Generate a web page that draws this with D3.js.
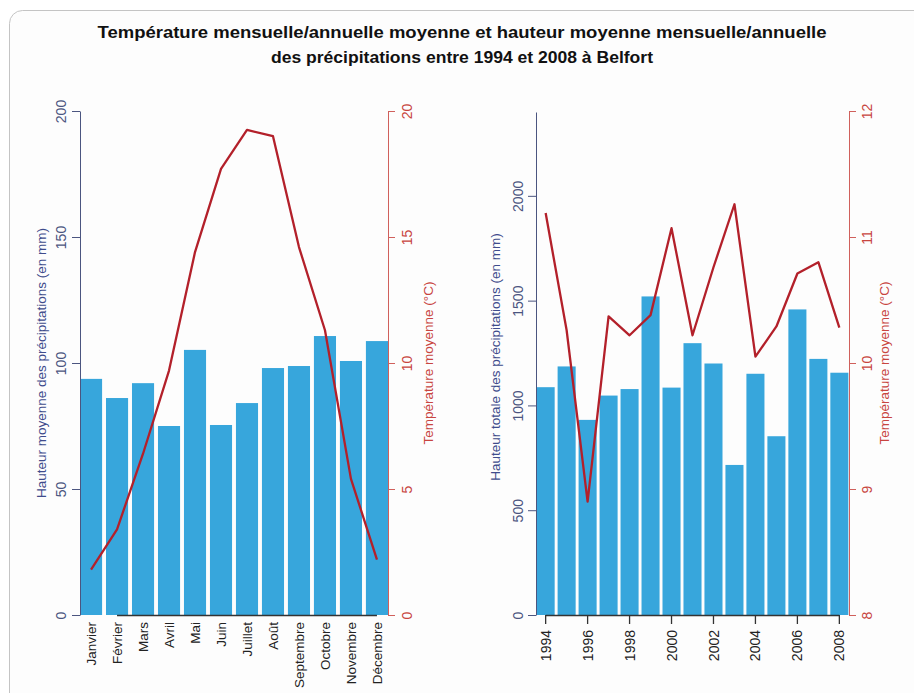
<!DOCTYPE html>
<html>
<head>
<meta charset="utf-8">
<script src="https://cdn.jsdelivr.net/npm/d3@7"></script>
<style>
  body { margin: 0; background: #fff; }
  svg text { font-family: "Liberation Sans", Arial, sans-serif; }
</style>
</head>
<body>
<svg id="chart" width="914" height="693"></svg>
<script>
// monthly means 1994-2008
var months = ["Janvier", "Février", "Mars", "Avril", "Mai", "Juin", "Juillet", "Août",
              "Septembre", "Octobre", "Novembre", "Décembre"];
var monthRain = [93.7, 86.1, 92.0, 75.0, 105.2, 75.4, 84.1, 98.0, 98.8, 110.7, 100.8, 108.7];
var monthTemp = [1.8, 3.4, 6.4, 9.7, 14.4, 17.7, 19.25, 19.0, 14.6, 11.3, 5.4, 2.2];

// yearly values
var years = [1994, 1995, 1996, 1997, 1998, 1999, 2000, 2001, 2002, 2003, 2004, 2005, 2006, 2007, 2008];
var yearRain = [1087, 1186, 931, 1047, 1078, 1520, 1085, 1297, 1200, 716, 1151, 853, 1458, 1222, 1156];
var yearTemp = [11.19, 10.26, 8.90, 10.37, 10.22, 10.38, 11.07, 10.22, 10.76, 11.26, 10.05, 10.29, 10.71, 10.80, 10.28];

var titleLines = ["Température mensuelle/annuelle moyenne et hauteur moyenne mensuelle/annuelle",
                  "des précipitations entre 1994 et 2008 à Belfort"];

var barColor = "#37a6dc",
    lineColor = "#b3202a",
    blueAxis = "#4b5580",
    blueText = "#3f4c8c",
    redAxis = "#d0605c",
    redText = "#c8453f";

var svg = d3.select("#chart");

// card frame
svg.append("rect")
    .attr("x", 9.5).attr("y", 10.5)
    .attr("width", 930).attr("height", 720)
    .attr("rx", 13)
    .attr("fill", "#fdfdfd")
    .attr("stroke", "#c4c4c4");

// title
svg.selectAll(".title")
    .data(titleLines)
    .enter().append("text")
    .attr("class", "title")
    .attr("x", 462)
    .attr("y", function(d, i) { return 38 + i * 25; })
    .attr("text-anchor", "middle")
    .attr("textLength", function(d, i) { return i == 0 ? 729 : 382; })
    .attr("lengthAdjust", "spacingAndGlyphs")
    .style("font-size", "16px")
    .style("font-weight", "bold")
    .style("fill", "#111")
    .text(function(d) { return d; });

function rotLabels(sel, dx, color) {
    sel.selectAll("text")
        .attr("x", 0).attr("y", 0).attr("dy", 0)
        .attr("text-anchor", "middle")
        .attr("transform", "translate(" + dx + ",0) rotate(-90)")
        .style("font-size", "14px")
        .style("font-family", "Liberation Sans, Arial, sans-serif")
        .style("fill", color);
}

function styleAxis(sel, color) {
    sel.selectAll("path, line").attr("stroke", color);
}

function drawPanel(cfg) {
    var g = svg.append("g");

    var x = d3.scaleBand()
        .domain(cfg.cats)
        .range([cfg.x0, cfg.x1])
        .paddingInner(cfg.padIn)
        .paddingOuter(cfg.padOut);

    var yR = d3.scaleLinear().domain(cfg.rainDomain).range([615, cfg.rainTop]);
    var yT = d3.scaleLinear().domain(cfg.tempDomain).range([615, 111]);

    g.append("g")
        .selectAll("rect")
        .data(cfg.rain)
        .enter().append("rect")
        .attr("x", function(d, i) { return x(cfg.cats[i]); })
        .attr("y", function(d) { return yR(d); })
        .attr("width", x.bandwidth())
        .attr("height", function(d) { return yR(0) - yR(d); })
        .attr("fill", barColor);

    // x axis
    var cx = function(c) { return x(c) + x.bandwidth() / 2; };
    g.append("line")
        .attr("x1", cx(cfg.axisFrom)).attr("x2", cx(cfg.axisTo))
        .attr("y1", 615.5).attr("y2", 615.5)
        .attr("stroke", "#333").attr("stroke-width", 1.3);

    if (cfg.xTicks) {
        g.selectAll(".xtick")
            .data(cfg.xTicks)
            .enter().append("line")
            .attr("x1", cx).attr("x2", cx)
            .attr("y1", 615).attr("y2", 624)
            .attr("stroke", "#333").attr("stroke-width", 1.3);
    }

    g.selectAll(".xlab")
        .data(cfg.xLabels)
        .enter().append("text")
        .attr("transform", function(d) { return "translate(" + cx(d) + "," + cfg.labelY + ") rotate(-90)"; })
        .attr("dy", "0.36em")
        .attr("text-anchor", "end")
        .style("font-size", cfg.xFont)
        .style("fill", "#222")
        .text(function(d) { return d; });

    // left axis
    var aL = g.append("g")
        .attr("transform", "translate(" + cfg.x0 + ",0)")
        .call(d3.axisLeft(yR).tickValues(cfg.rainTicks).tickSize(8).tickSizeOuter(0).tickFormat(d3.format("d")));
    styleAxis(aL, blueAxis);
    rotLabels(aL, cfg.leftLabDx, blueAxis);

    // right axis
    var aR = g.append("g")
        .attr("transform", "translate(" + cfg.x1 + ",0)")
        .call(d3.axisRight(yT).tickValues(cfg.tempTicks).tickSize(7).tickSizeOuter(0).tickFormat(d3.format("d")));
    styleAxis(aR, redAxis);
    rotLabels(aR, cfg.rightLabDx, redText);

    // temperature line
    var line = d3.line()
        .x(function(d, i) { return cx(cfg.cats[i]); })
        .y(function(d) { return yT(d); });

    g.append("path")
        .datum(cfg.temp)
        .attr("d", line)
        .attr("fill", "none")
        .attr("stroke", lineColor)
        .attr("stroke-width", 2.3)
        .attr("stroke-linejoin", "round");

    // axis titles
    g.append("text")
        .attr("transform", "translate(" + cfg.leftTitleX + "," + cfg.leftTitleY + ") rotate(-90)")
        .attr("text-anchor", "middle")
        .style("font-size", "13.5px")
        .style("fill", blueText)
        .text(cfg.leftTitle);

    g.append("text")
        .attr("transform", "translate(" + cfg.rightTitleX + ",363) rotate(-90)")
        .attr("text-anchor", "middle")
        .style("font-size", "13.5px")
        .style("fill", redText)
        .text("Température moyenne (°C)");
}

drawPanel({
    cats: months, rain: monthRain, temp: monthTemp,
    x0: 80, x1: 388, padIn: 0.15, padOut: 0,
    rainDomain: [0, 200], rainTop: 111, rainTicks: [0, 50, 100, 150, 200],
    tempDomain: [0, 20], tempTicks: [0, 5, 10, 15, 20],
    axisFrom: "Février", axisTo: "Décembre",
    xLabels: months, labelY: 622, xFont: "13.5px",
    leftLabDx: -14, rightLabDx: 24,
    leftTitle: "Hauteur moyenne des précipitations (en mm)", leftTitleX: 46, leftTitleY: 363,
    rightTitleX: 433
});

drawPanel({
    cats: years, rain: yearRain, temp: yearTemp,
    x0: 536, x1: 849, padIn: 0.14, padOut: 0.03,
    rainDomain: [0, 2400], rainTop: 112, rainTicks: [0, 500, 1000, 1500, 2000],
    tempDomain: [8, 12], tempTicks: [8, 9, 10, 11, 12],
    axisFrom: 1994, axisTo: 2008,
    xTicks: [1994, 1996, 1998, 2000, 2002, 2004, 2006, 2008],
    xLabels: [1994, 1996, 1998, 2000, 2002, 2004, 2006, 2008], labelY: 630, xFont: "14px",
    leftLabDx: -13, rightLabDx: 23,
    leftTitle: "Hauteur totale des précipitations (en mm)", leftTitleX: 500, leftTitleY: 357,
    rightTitleX: 889
});
</script>
</body>
</html>
